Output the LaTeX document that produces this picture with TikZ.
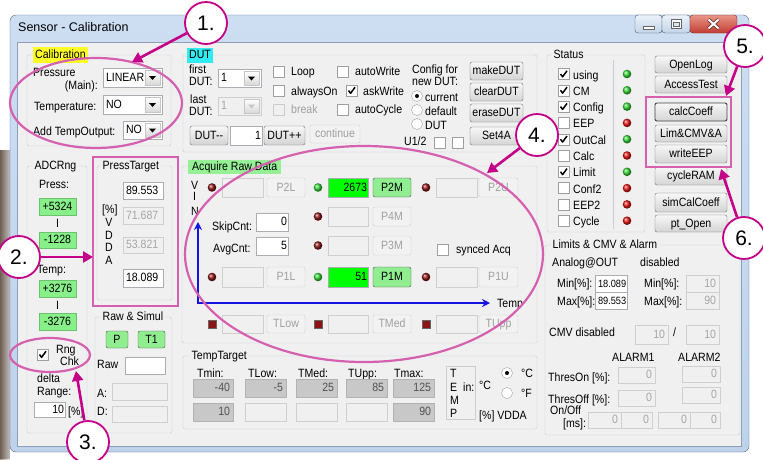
\documentclass[tikz,border=0pt]{standalone}
\usepackage{fontspec}
\setmainfont{Liberation Sans}[FakeStretch=0.88]
\newfontfamily\titlefont{Liberation Sans}
\usetikzlibrary{calc,arrows.meta,shapes.geometric}

\definecolor{client}{HTML}{F0F0F0}
\definecolor{grpline}{RGB}{200,206,212}
\definecolor{tbord}{RGB}{171,173,179}
\definecolor{mag}{RGB}{195,0,135}
\definecolor{pinkc}{RGB}{214,96,176}
\definecolor{lgreen}{RGB}{144,238,144}
\definecolor{bgreen}{RGB}{0,255,0}
\definecolor{adcgreen}{RGB}{136,240,136}
\definecolor{dred}{RGB}{140,20,20}
\definecolor{ledr}{RGB}{230,20,20}
\definecolor{ledg}{RGB}{50,215,50}
\definecolor{dis}{RGB}{160,160,160}
\definecolor{grayfill}{RGB}{200,200,200}
\definecolor{calyellow}{RGB}{255,255,40}
\definecolor{dutcyan}{RGB}{50,235,240}
\definecolor{acqgreen}{RGB}{150,240,150}
\definecolor{axisblue}{RGB}{20,20,225}

\newcommand\uifont{\fontsize{12}{14}\selectfont}
\def\uiR{right}\def\uiL{left}
% [align]{style}{name}{x1}{y1}{x2}{y2}{text}
\newcommand\uibox[8][center]{%
  \pgfmathsetmacro\uicx{(#4+#6)/2}%
  \pgfmathsetmacro\uicy{(#5+#7)/2}%
  \pgfmathsetmacro\uiw{#6-#4}%
  \pgfmathsetmacro\uitw{#6-#4-2}%
  \pgfmathsetmacro\uih{#7-#5}%
  \def\uialign{#1}%
  \ifx\uialign\uiR\def\uipre{}\def\uipost{\hspace*{2pt}}\else
    \ifx\uialign\uiL\def\uipre{\hspace*{2pt}}\def\uipost{}\else\def\uipre{}\def\uipost{}\fi\fi
  \node[#2, inner xsep=1pt, minimum width=\uiw pt, minimum height=\uih pt, text width=\uitw pt, align=#1] (#3) at (\uicx,\uicy) {\uipre#8\uipost};}
% [style]{name}{x1}{y1}{x2}{y2}{text}{arrow colour}
\newcommand\uicombo[8][tb]{%
  \uibox[left]{#1}{#2}{#3}{#4}{#5}{#6}{#7}%
  \draw[draw=gray!45, top color=white, bottom color=white!85!black] (#5-17,#4+2) rectangle (#5-2,#6-2);%
  \fill[#8] (#5-13,#4/2+#6/2-1.5) -- (#5-6,#4/2+#6/2-1.5) -- (#5-9.5,#4/2+#6/2+2.5) -- cycle;}
\newcommand\uicb[3][draw=gray!75, fill=white]{\draw[#1] (#2,#3) rectangle ++(11,11);}
\newcommand\uichk[2]{\draw[line width=1.5pt, line join=round] (#1+2.5,#2+5.5) -- (#1+4.6,#2+8.3) -- (#1+9,#2+2.3);}
\newcommand\uirad[2]{\draw[draw=gray!75, fill=white] (#1,#2) circle (5.5);}
\newcommand\uiled[3]{\shade[ball color=#1] (#2,#3) circle (4.3);}

\tikzset{
  every node/.style={font=\uifont, inner sep=0pt},
  lbl/.style={anchor=base west},
  lblr/.style={anchor=base east},
  uib/.style={text height=8.4pt, text depth=0.6pt, inner ysep=0pt},
  btn/.style={uib, draw={rgb,255:red,112;green,112;blue,112}, rounded corners=2pt, top color=white!97!black, bottom color=white!83!black},
  btndis/.style={uib, draw=gray!38, rounded corners=2pt, fill=white!95!black, text=dis},
  btngr/.style={uib, draw=gray!65!black, rounded corners=2pt, fill=lgreen},
  tb/.style={uib, draw=tbord, fill=white},
  tbdis/.style={uib, draw=gray!38, fill=client, text=gray!70},
  tbgray/.style={uib, draw=gray!60, fill=grayfill, text=gray!65!black},
  tbgreen/.style={uib, draw=tbord, fill=bgreen},
  adc/.style={uib, fill=adcgreen, draw=adcgreen!80!black},
  grp/.style={draw=grpline, rounded corners=1.5pt},
  glbl/.style={anchor=west, fill=client, inner xsep=1.5pt, text height=8.4pt, text depth=0.6pt},
  mcirc/.style={circle, draw=mag, line width=1.8pt, fill=white, minimum size=42pt, font={\titlefont\fontsize{21}{24}\selectfont}},
  marrow/.style={draw=mag, line width=2.6pt, -{Triangle[length=10pt,width=11pt]}},
  pinkl/.style={draw=pinkc, line width=2.2pt},
  axis/.style={draw=axisblue, line width=1.6pt},
}

\begin{document}
\begin{tikzpicture}[x=1pt,y=-1pt]
\useasboundingbox (0,0) rectangle (763,459);
\fill[white] (0,0) rectangle (763,459);
\fill[left color={rgb,255:red,120;green,90;blue,70}, right color=white, opacity=0.6] (0,150) rectangle (10,459);

% window
\draw[draw={rgb,255:red,85;green,105;blue,135}, top color={rgb,255:red,205;green,222;blue,242}, bottom color={rgb,255:red,190;green,210;blue,234}, rounded corners=6pt] (10,15) rectangle (749,452);
\draw[draw={rgb,255:red,140;green,160;blue,185}, fill=client] (17,42) rectangle (741,446);
\node[lbl, font={\titlefont\fontsize{12.5}{14}\selectfont}] (title) at (18,31) {Sensor - Calibration};
\node[draw={rgb,255:red,70;green,90;blue,120}, top color={rgb,255:red,235;green,242;blue,250}, bottom color={rgb,255:red,195;green,212;blue,232}, rounded corners=3pt, minimum width=27pt, minimum height=18pt] (cmin) at (648.5,24) {};
\node[draw={rgb,255:red,70;green,90;blue,120}, top color={rgb,255:red,235;green,242;blue,250}, bottom color={rgb,255:red,195;green,212;blue,232}, rounded corners=3pt, minimum width=28pt, minimum height=18pt] (cmax) at (676,24) {};
\node[draw={rgb,255:red,110;green,40;blue,40}, top color={rgb,255:red,232;green,150;blue,135}, bottom color={rgb,255:red,195;green,60;blue,50}, rounded corners=3pt, minimum width=47pt, minimum height=18pt] (cclose) at (713.5,24) {};
\draw[draw=black!60, fill=white] (643,26) rectangle (654,29);
\draw[draw=black!60, fill=white] (671,19) rectangle (681,28);
\draw[draw=black!60, fill={rgb,255:red,215;green,228;blue,242}] (673,22) rectangle (679,26);
\draw[line width=3.4pt, draw={rgb,255:red,90;green,30;blue,30}] (708.5,19.5) -- (718.5,28.5) (708.5,28.5) -- (718.5,19.5);
\draw[line width=2pt, white] (708.5,19.5) -- (718.5,28.5) (708.5,28.5) -- (718.5,19.5);

% ---- Calibration
\draw[grp] (27,55) rectangle (171,146);
\node[glbl, fill=calyellow, inner ysep=3.5pt, inner xsep=2pt] (gcal) at (33,55) {Calibration};
\node[lbl] (lpress) at (33,76) {Pressure};
\node[lblr] (lmain) at (98,89) {(Main):};
\uicombo{cbpress}{103}{68}{162}{87}{LINEAR}{black}
\node[lbl] (ltemp) at (34,110) {Temperature:};
\uicombo{cbtemp}{103}{95}{162}{114}{NO}{black}
\node[lbl] (laddt) at (33,135) {Add TempOutput:};
\uicombo{cbaddt}{123}{121}{162}{139}{NO}{black}

% ---- DUT
\draw[grp] (183,55) rectangle (537,152);
\node[glbl, fill=dutcyan, inner ysep=3pt, inner xsep=2pt] (gdut) at (187,55) {DUT};
\node[lbl] (lfirst) at (189,73) {first};
\node[lbl] (lfdut) at (189,85) {DUT:};
\uicombo{cbfirst}{218}{69}{261}{87}{1}{black}
\node[lbl] (llast) at (190,103) {last};
\node[lbl] (lldut) at (189,115) {DUT:};
\uicombo[tbdis]{cblast}{218}{97}{261}{115}{1}{gray!45}
\uicb{273}{66} \node[lbl] (lloop) at (291,75) {Loop};
\uicb{273}{85} \node[lbl] (lalways) at (291,95) {alwaysOn};
\uicb[draw=gray!40, fill=client]{273}{104} \node[lbl, text=dis] (lbreak) at (291,113) {break};
\uicb{337}{66} \node[lbl] (lautow) at (355,75) {autoWrite};
\uicb{346}{85}\uichk{346}{85} \node[lbl] (lask) at (363,95) {askWrite};
\uicb{337}{104} \node[lbl] (lautoc) at (355,113) {autoCycle};
\node[lbl] (lcfg1) at (412,73) {Config for};
\node[lbl] (lcfg2) at (412,85) {new DUT:};
\uirad{417}{96}\fill (417,96) circle (2); \node[lbl] (lcur) at (425,101) {current};
\uirad{417}{110} \node[lbl] (ldef) at (425,115) {default};
\uirad{417}{124} \node[lbl] (lrdut) at (425,129) {DUT};
\uibox{btn}{bmake}{470}{62}{523}{80}{makeDUT}
\uibox{btn}{bclear}{470}{83}{523}{101}{clearDUT}
\uibox{btn}{berase}{470}{104}{523}{122}{eraseDUT}
\uibox{btn}{bset}{470}{127}{523}{145}{Set4A}
\uibox{btn}{bdutm}{190}{126}{228}{145}{DUT-{}-}
\uibox[right]{tb}{tdut}{230}{126}{262}{145}{1}
\uibox{btn}{bdutp}{264}{126}{305}{145}{DUT++}
\uibox{btndis}{bcont}{310}{125}{360}{143}{continue}
\node[lbl] (lu12) at (404,145) {U1/2};
\uicb{434}{137} \uicb{452}{137}

% ---- Status
\draw[grp] (547,55) rectangle (645,232);
\draw[grpline] (613,60) -- (613,229);
\node[glbl] (gstat) at (552,55) {Status};
\foreach \t/\c [count=\i] in {using/1,CM/1,Config/1,EEP/0,OutCal/1,Calc/0,Limit/1,Conf2/0,EEP2/0,Cycle/0}{
  \pgfmathsetmacro\yc{74+16.3*(\i-1)}
  \uicb{558}{\yc-5.5}
  \ifnum\c=1 \uichk{558}{\yc-5.5}\fi
  \node[lbl] (st\i) at (573,\yc+5) {\t};
  \ifnum\c=1 \uiled{ledg}{627}{\yc}\else \uiled{ledr}{627}{\yc}\fi
}
\uibox{btn}{bopen}{655}{56}{727}{73}{OpenLog}
\uibox{btn}{bacc}{655}{76}{727}{93}{AccessTest}
\uibox{btn, line width=0.9pt, draw=black!75}{bcalc}{655}{103}{727}{121}{calcCoeff}
\uibox{btn}{blim}{655}{125}{727}{142}{Lim\&CMV\&A}
\uibox{btn}{bwrite}{655}{145}{727}{163}{writeEEP}
\uibox{btn}{bcycle}{655}{167}{727}{185}{cycleRAM}
\uibox{btn}{bsim}{655}{193}{727}{212}{simCalCoeff}
\uibox{btn}{bpt}{655}{215}{727}{232}{pt\_Open}

% ---- ADCRng
\draw[grp] (27,166) rectangle (87,433);
\node[glbl] (gadc) at (33,166) {ADCRng};
\node[lbl] (lpr) at (39,188) {Press:};
\uibox{adc}{a1}{39}{198}{76}{215}{+5324}
\node[lbl] (li1) at (56,227) {I};
\uibox{adc}{a2}{39}{232}{76}{248}{-1228}
\node[lbl] (ltp) at (37,273) {Temp:};
\uibox{adc}{a3}{39}{280}{76}{297}{+3276}
\node[lbl] (li2) at (56,309) {I};
\uibox{adc}{a4}{39}{313}{76}{330}{-3276}
\uicb{37}{349}\uichk{37}{349}
\node[lbl] (lrng) at (56,353) {Rng};
\node[lbl] (lchk) at (60,365) {Chk};
\node[lbl] (ldelta) at (37,382) {delta};
\node[lbl] (lrange) at (37,395) {Range:};
\uibox[right]{tb}{tdelta}{34}{402}{65}{417}{10}
\node[lbl] (lpct) at (68,415) {[\%]};

% ---- PressTarget
\draw[grp] (97,166) rectangle (172,300);
\node[glbl] (gpt) at (101,166) {PressTarget};
\uibox[left]{tb}{pt1}{123}{182}{163}{199}{89.553}
\uibox[left]{tbdis}{pt2}{123}{207}{163}{224}{71.687}
\uibox[left]{tbdis}{pt3}{123}{237}{163}{253}{53.821}
\uibox[left]{tb}{pt4}{123}{269}{163}{287}{18.089}
\node[lbl] (lpct2) at (102,213) {[\%]};
\node[anchor=base] (lvv1) at (109,226) {V};
\node[anchor=base] (lvd1) at (109,239) {D};
\node[anchor=base] (lvd2) at (109,251) {D};
\node[anchor=base] (lva) at (109,264) {A};

% ---- Raw & Simul
\draw[grp] (95,317) rectangle (172,433);
\node[glbl] (graw) at (101,317) {Raw \& Simul};
\uibox{btngr}{bp}{106}{331}{128}{348}{P}
\uibox{btngr}{bt1}{138}{331}{165}{348}{T1}
\node[lbl] (lraw) at (97,368) {Raw};
\uibox{tb}{traw}{125}{357}{165}{374}{}
\node[lbl] (la) at (97,397) {A:};
\uibox{tbdis}{ta}{112}{383}{167}{400}{}
\node[lbl] (ld) at (97,415) {D:};
\uibox{tbdis}{td}{112}{406}{167}{422}{}

% ---- Acquire Raw Data
\draw[grp] (182,166) rectangle (537,343);
\node[glbl, fill=acqgreen, inner ysep=2.5pt, inner xsep=4pt] (gacq) at (188,167) {Acquire Raw Data};
\node[lbl] (lvin1) at (191,189) {V};
\node[lbl] (lvin2) at (193,200) {I};
\node[lbl] (lvin3) at (191,215) {N};
% row P2
\uiled{dred}{212}{187.5}
\uibox{tbdis}{r2a}{222}{178}{263}{197}{}
\uibox{btndis}{b2l}{267}{178}{305}{197}{P2L}
\uiled{ledg}{318}{187.5}
\uibox[right]{tbgreen}{r2b}{328}{178}{368}{197}{2673}
\uibox{btngr}{b2m}{373}{178}{411}{197}{P2M}
\uiled{dred}{426}{187.5}
\uibox{tbdis}{r2c}{436}{178}{477}{197}{}
\uibox{btndis}{b2u}{479}{178}{518}{197}{P2U}
% row P4
\uiled{dred}{318}{216.5}
\uibox{tbdis}{r4b}{328}{207}{368}{226}{}
\uibox{btndis}{b4m}{373}{207}{411}{226}{P4M}
% row P3
\uiled{dred}{318}{245.5}
\uibox{tbdis}{r3b}{328}{236}{368}{255}{}
\uibox{btndis}{b3m}{373}{236}{411}{255}{P3M}
% skip / avg
\node[lbl] (lskip) at (212,230) {SkipCnt:};
\uibox[right]{tb}{tskip}{256}{213}{288}{231}{0}
\node[lbl] (lavg) at (213,252) {AvgCnt:};
\uibox[right]{tb}{tavg}{256}{237}{288}{255}{5}
\uicb{437}{244} \node[lbl] (lsync) at (456,253) {synced Acq};
% row P1
\uiled{dred}{212}{277}
\uibox{tbdis}{r1a}{222}{267}{263}{287}{}
\uibox{btndis}{b1l}{267}{267}{305}{287}{P1L}
\uiled{ledg}{318}{277}
\uibox[right]{tbgreen}{r1b}{328}{267}{368}{287}{51}
\uibox{btngr}{b1m}{373}{267}{411}{287}{P1M}
\uiled{dred}{426}{277}
\uibox{tbdis}{r1c}{436}{267}{477}{287}{}
\uibox{btndis}{b1u}{479}{267}{518}{287}{P1U}
% axes
\coordinate (ax0) at (198,303);
\coordinate (axv) at (198,222);
\coordinate (axh) at (490,303);
\draw[axis, {Stealth[length=8pt,width=8pt]}-{Stealth[length=8pt,width=8pt]}] (axv) -- (ax0) -- (axh);
\node[lbl] (ltempax) at (497,307) {Temp};
% row T
\draw[fill=dred, draw=black!60] (208,320) rectangle (216,328);
\uibox{tbdis}{rta}{222}{315}{263}{333}{}
\uibox{btndis}{btlow}{267}{315}{305}{333}{TLow}
\draw[fill=dred, draw=black!60] (314,320) rectangle (322,328);
\uibox{tbdis}{rtb}{328}{315}{368}{333}{}
\uibox{btndis}{btmed}{373}{315}{411}{333}{TMed}
\draw[fill=dred, draw=black!60] (422,320) rectangle (430,328);
\uibox{tbdis}{rtc}{436}{315}{477}{333}{}
\uibox{btndis}{btupp}{479}{315}{518}{333}{TUpp}

% ---- TempTarget
\draw[grp] (183,356) rectangle (537,429);
\node[glbl] (gtt) at (190,356) {TempTarget};
\node[lbl] (htmin) at (197,377) {Tmin:};
\node[lbl] (htlow) at (248,377) {TLow:};
\node[lbl] (htmed) at (298,377) {TMed:};
\node[lbl] (htupp) at (348,377) {TUpp:};
\node[lbl] (htmax) at (394,377) {Tmax:};
\uibox[right]{tbgray}{tt11}{193}{379}{233}{397}{-40}
\uibox[right]{tbgray}{tt12}{245}{379}{286}{397}{-5}
\uibox[right]{tbgray}{tt13}{296}{379}{337}{397}{25}
\uibox[right]{tbgray}{tt14}{346}{379}{387}{397}{85}
\uibox[right]{tbgray}{tt15}{393}{379}{434}{397}{125}
\uibox[right]{tbgray}{tt21}{193}{403}{233}{421}{10}
\uibox{tbdis}{tt22}{245}{403}{286}{421}{}
\uibox{tbdis}{tt23}{296}{403}{337}{421}{}
\uibox{tbdis}{tt24}{346}{403}{387}{421}{}
\uibox[right]{tbgray}{tt25}{393}{403}{434}{421}{90}
\draw[draw=gray!40] (446,366) rectangle (475,419);
\node[lbl] (ltT) at (450,377) {T};
\node[lbl] (ltE) at (450,391) {E};
\node[lbl] (ltM) at (450,404) {M};
\node[lbl] (ltP) at (450,417) {P};
\node[lbl] (lin) at (463,391) {in:};
\node[lbl] (ldegc) at (479,389) {°C};
\uirad{507}{373}\fill (507,373) circle (2);
\node[lbl] (lrc) at (521,377) {°C};
\uirad{507}{393}
\node[lbl] (lrf) at (521,397) {°F};
\node[lbl] (lvdda) at (479,419) {[\%] VDDA};

% ---- Limits & CMV & Alarm
\draw[grp] (545,245) rectangle (740,435);
\node[glbl] (glim) at (551,245) {Limits \& CMV \& Alarm};
\node[lbl] (lanalog) at (552,266) {Analog@OUT};
\node[lbl] (ldisab) at (640,266) {disabled};
\node[lbl] (lmin1) at (557,287) {Min[\%]:};
\uibox[left]{tb, font=\fontsize{10.5}{12}\selectfont}{tmin1}{595}{275}{627}{292}{18.089}
\node[lbl] (lmin2) at (644,287) {Min[\%]:};
\uibox[right]{tbdis}{tmin2}{686}{275}{719}{292}{10}
\node[lbl] (lmax1) at (557,305) {Max[\%]:};
\uibox[left]{tb, font=\fontsize{10.5}{12}\selectfont}{tmax1}{595}{292}{627}{309}{89.553}
\node[lbl] (lmax2) at (644,305) {Max[\%]:};
\uibox[right]{tbdis}{tmax2}{686}{292}{719}{309}{90}
\node[lbl] (lcmv) at (549,336) {CMV disabled};
\uibox[right]{tbdis}{tcmv1}{635}{325}{668}{344}{10}
\node[lbl] (lslash) at (673,336) {/};
\uibox[right]{tbdis}{tcmv2}{686}{325}{719}{344}{10}
\node[lbl] (lal1) at (612,361) {ALARM1};
\node[lbl] (lal2) at (678,361) {ALARM2};
\node[lbl] (lton) at (548,381) {ThresOn [\%]:};
\uibox[right]{tbdis}{ton1}{618}{367}{655}{383}{0}
\uibox[right]{tbdis}{ton2}{682}{366}{720}{382}{0}
\node[lbl] (ltoff) at (548,403) {ThresOff [\%]:};
\uibox[right]{tbdis}{toff1}{618}{390}{655}{406}{0}
\uibox[right]{tbdis}{toff2}{682}{387}{720}{403}{0}
\node[lbl] (lonoff) at (550,414) {On/Off};
\node[lbl] (lms) at (563,427) {[ms]:};
\uibox[right]{tbdis}{to1}{588}{412}{621}{428}{0}
\uibox[right]{tbdis}{to2}{621}{412}{652}{428}{0}
\uibox[right]{tbdis}{to3}{658}{412}{690}{428}{0}
\uibox[right]{tbdis}{to4}{690}{412}{720}{428}{0}

% ---- annotations
\draw[pinkl] (96,103) ellipse [x radius=86, y radius=45];
\draw[pinkl] (50,355) ellipse [x radius=40, y radius=17];
\draw[pinkl] (364,254) ellipse [x radius=179, y radius=108];
\draw[pinkl, line width=2.6pt] (93,157) rectangle (178,306);
\draw[pinkl, line width=2.6pt] (646,97) rectangle (731,167);

\node[mcirc] (c1) at (206,23) {1.};
\node[mcirc] (c2) at (19,257) {2.};
\node[mcirc] (c3) at (88,442) {3.};
\node[mcirc] (c4) at (537,135) {4.};
\node[mcirc] (c5) at (745,46) {5.};
\node[mcirc] (c6) at (744,238) {6.};
\coordinate (t1) at (132,62);
\coordinate (t2) at (93,257);
\coordinate (t3) at (76,371);
\coordinate (t4) at (487,173);
\coordinate (t5) at (726,96);
\coordinate (t6) at (721,169);
\draw[marrow] (c1) -- (t1);
\draw[marrow] (c2) -- (t2);
\draw[marrow] (c3) -- (t3);
\draw[marrow] (c4) -- (t4);
\draw[marrow] (c5) -- (t5);
\draw[marrow] (c6) -- (t6);
\end{tikzpicture}
\end{document}
